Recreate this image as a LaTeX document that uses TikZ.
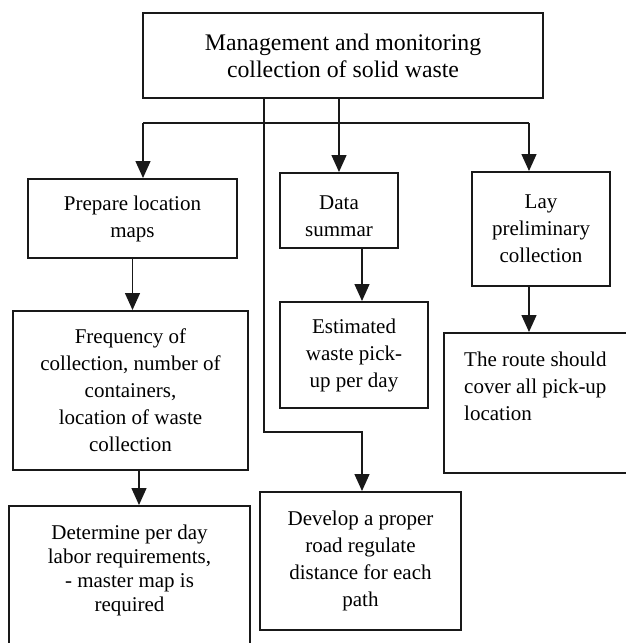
\documentclass[tikz,border=0pt]{standalone}
\usepackage{fontspec}
\setmainfont{Liberation Serif}
\usetikzlibrary{arrows.meta}
\begin{document}
\begin{tikzpicture}[x=1pt,y=-1pt,
  box/.style={draw=black!90, line width=2pt, rectangle, inner sep=0pt, align=center,
     font=\fontsize{21}{27}\selectfont},
  conn/.style={draw=black!90, line width=1.4pt},
  arr/.style={conn, -{Triangle[width=15pt,length=17pt]}},
  txt/.style={inner sep=0pt, font=\fontsize{21}{27}\selectfont}
]
\clip (0,0) rectangle (626,643);
\fill[white] (0,0) rectangle (626,643);

\node[box, minimum width=400, minimum height=85, font=\fontsize{23.8}{27}\selectfont] (top) at (343,55.5)
  {Management and monitoring\\collection of solid waste};
\node[box, minimum width=209, minimum height=79] (prep) at (132.5,218.5) {Prepare location\\maps};
\node[box, minimum width=235, minimum height=159] (freq) at (130.5,390.5)
  {Frequency of\\collection, number of\\containers,\\location of waste\\collection};
\node[box, minimum width=241, minimum height=160] (detbox) at (129.5,586) {};
\node[txt, align=center, font=\fontsize{21}{24}\selectfont] (dettext) at (129.5,570)
  {Determine per day\\labor requirements,\\- master map is\\required};
\node[box, minimum width=118, minimum height=75] (data) at (339,210.5) {};
\node[txt, align=center] (datatext) at (339,216) {Data\\summar};
\node[box, minimum width=148, minimum height=106] (est) at (354,355) {Estimated\\waste pick-\\up per day};
\node[box, minimum width=138, minimum height=114] (lay) at (541,229) {Lay\\preliminary\\collection};
\node[box, minimum width=200, minimum height=140, anchor=north west] (routebox) at (443,332) {};
\node[txt, align=left, anchor=north west] (routetext) at (464,352)
  {The route should\\cover all pick-up\\location};
\node[box, minimum width=201, minimum height=138] (dev) at (360.5,561)
  {Develop a proper\\road regulate\\distance for each\\path};

\coordinate (hl) at (143,123);
\coordinate (hr) at (529,123);
\coordinate (b1) at (264,432);
\coordinate (b2) at (362,432);
\coordinate (fa) at (139,0);
\coordinate (ea) at (362,0);

\draw[conn] (hl) -- (hr);
\draw[arr] (hl) -- (hl |- prep.north);
\draw[arr] (hr) -- (hr |- lay.north);
\draw[arr] (data.north |- top.south) -- (data.north);
\draw[arr] (top.south -| b1) -- (b1) -- (b2) -- (b2 |- dev.north);
\draw[arr] (prep.south) -- (freq.north -| prep.south);
\draw[arr] (freq.south -| fa) -- (detbox.north -| fa);
\draw[arr] (data.south -| ea) -- (est.north -| ea);
\draw[arr] (lay.south -| hr) -- (routebox.north -| hr);
\end{tikzpicture}
\end{document}
